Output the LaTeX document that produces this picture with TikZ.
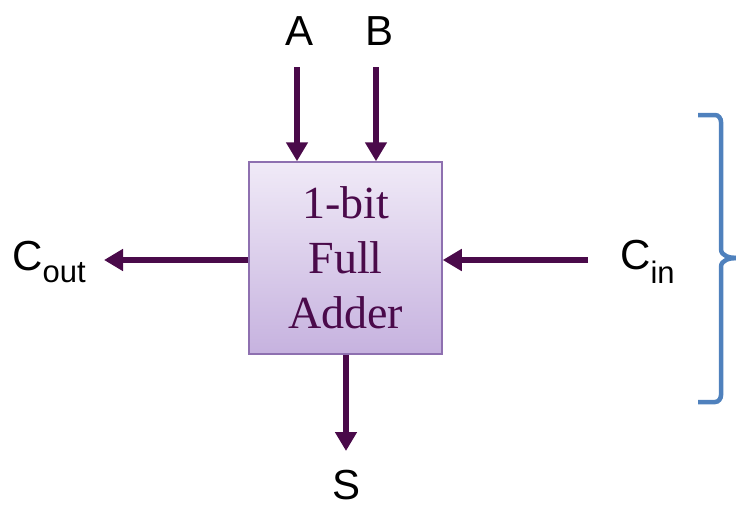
\documentclass[tikz,border=0pt]{standalone}
\usepackage{fontspec}
\setmainfont{Liberation Serif}
\setsansfont{Liberation Sans}
\usetikzlibrary{arrows.meta}
\definecolor{wire}{HTML}{4A0A4A}
\definecolor{boxtop}{HTML}{F0EAF7}
\definecolor{boxbot}{HTML}{C6B2DF}
\definecolor{boxline}{HTML}{8E70B0}
\definecolor{bracecol}{HTML}{4F81BD}
\begin{document}
\begin{tikzpicture}[x=1pt,y=-1pt,
  wirearrow/.style={draw=wire,line width=5.5pt,-{Triangle[width=21pt,length=19pt]}},
  pinlabel/.style={font=\sffamily\fontsize{42}{46}\selectfont,text=black,inner sep=0pt},
  adder/.style={draw=boxline,line width=1.5pt,top color=boxtop,bottom color=boxbot,
    minimum width=193pt,minimum height=192pt,align=center,text=wire,
    font=\fontsize{46}{55}\selectfont}]
  \useasboundingbox (0,0) rectangle (736,509);
  % the adder block
  \node[adder] (fa) at (345.5,258) {1-bit\\Full\\Adder};
  % pin labels
  \node[pinlabel] (a) at (300,31) {A};
  \node[pinlabel] (b) at (380,31) {B};
  \node[pinlabel,anchor=west] (cout) at (12,262) {C\textsubscript{\fontsize{31}{33}\selectfont out}};
  \node[pinlabel,anchor=west] (cin) at (620,262) {C\textsubscript{\fontsize{31}{33}\selectfont in}};
  \node[pinlabel] (s) at (347,485) {S};
  % wire end points
  \coordinate (aTop) at (297,67);
  \coordinate (bTop) at (376,67);
  \coordinate (cinEnd) at (588,260);
  \coordinate (coutEnd) at (104,260);
  \coordinate (sEnd) at (346,451);
  % wires
  \draw[wirearrow] (aTop) -- (aTop |- fa.north);
  \draw[wirearrow] (bTop) -- (bTop |- fa.north);
  \draw[wirearrow] (cinEnd) -- (fa.east |- cinEnd);
  \draw[wirearrow] (fa.west |- coutEnd) -- (coutEnd);
  \draw[wirearrow] (sEnd |- fa.south) -- (sEnd);
  % square bracket-like brace on the right
  \coordinate (brTop) at (698,115);
  \coordinate (brBot) at (698,402);
  \coordinate (brTip) at (737,258);
  \draw[bracecol,line width=4.5pt,line cap=butt]
    (brTop) -- (715,115) to[out=0,in=90] (721,122) -- (721,249)
    to[out=-90,in=180] (brTip);
  \draw[bracecol,line width=4.5pt,line cap=butt]
    (brBot) -- (715,402) to[out=0,in=-90] (721,395) -- (721,267)
    to[out=90,in=180] (brTip);
\end{tikzpicture}
\end{document}
